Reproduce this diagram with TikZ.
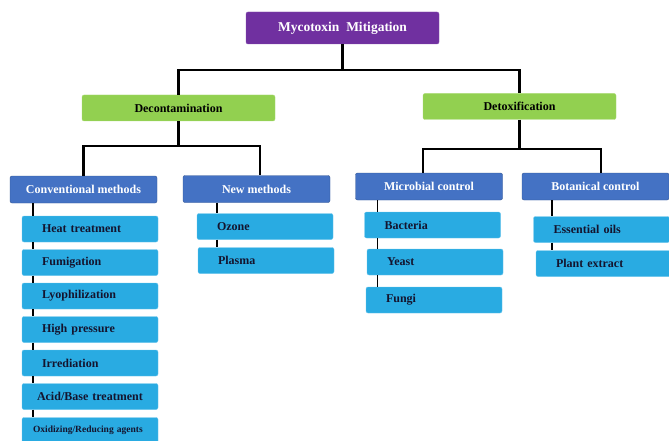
\documentclass[tikz,border=0pt]{standalone}
\usepackage{fontspec}
\setmainfont{Liberation Serif}

\definecolor{mitpurple}{HTML}{7030A0}
\definecolor{mitgreen}{HTML}{92D050}
\definecolor{mitblue}{HTML}{4472C4}
\definecolor{mitcyan}{HTML}{29ABE2}
\definecolor{mitink}{HTML}{14142E}

\tikzset{
  box/.style={rectangle, rounded corners=2pt, inner sep=0pt,
    font=\bfseries\fontsize{12}{14}\selectfont},
  rootbox/.style={box, fill=mitpurple, draw=mitpurple!85!white, text=white,
    minimum width=193pt, minimum height=32pt, font=\bfseries\fontsize{13.5}{15}\selectfont},
  groupbox/.style={box, fill=mitgreen, draw=mitgreen!80!white, text=black,
    minimum width=193pt, minimum height=26pt},
  classbox/.style={box, fill=mitblue, draw=mitblue!75!black, text=white,
    minimum width=147pt, minimum height=27pt},
  leaf/.style={box, fill=mitcyan, draw=mitcyan!70!white, text=mitink,
    text width=96pt, align=left, inner xsep=20pt, minimum height=26pt},
  conn/.style={line width=2.2pt},
  bar/.style={line width=1.6pt}
}

\begin{document}
\begin{tikzpicture}[x=1pt,y=-1pt]
    \useasboundingbox (0,0) rectangle (669,441);

    % 顶层
    \node[rootbox] (root) at (342.5,28) {Mycotoxin~~Mitigation};

    % 第二层
    \node[groupbox] (decon) at (178.5,108) {Decontamination};
    \node[groupbox] (detox) at (519.5,106.5) {Detoxification};

    % 第三层
    \node[classbox] (conv) at (83.5,189.5) {Conventional methods};
    \node[classbox] (newm) at (256.5,189) {New methods};
    \node[classbox] (micro) at (429,186.5) {Microbial control};
    \node[classbox] (bota) at (595.5,186.5) {Botanical control};

    % 传统方法
    \node[leaf] (heat) at (90,229) {Heat treatment};
    \node[leaf] (fumi) at (90,262.5) {Fumigation};
    \node[leaf] (lyo) at (90,296) {Lyophilization};
    \node[leaf] (press) at (90,329.5) {High pressure};
    \node[leaf] (irr) at (90,363) {Irrediation};
    \node[leaf, inner xsep=15pt, text width=106pt] (acid) at (90,396.5) {Acid/Base treatment};
    \node[leaf, inner xsep=11pt, text width=114pt,
      font=\bfseries\fontsize{9.5}{11}\selectfont] (oxid) at (90,430.5) {Oxidizing/Reducing agents};

    % 新方法
    \node[leaf] (ozone) at (265,226.5) {Ozone};
    \node[leaf] (plasma) at (266,260.5) {Plasma};

    % 微生物控制
    \node[leaf] (bact) at (432.5,225) {Bacteria};
    \node[leaf] (yeast) at (435,262) {Yeast};
    \node[leaf] (fungi) at (434,300) {Fungi};

    % 植物控制
    \node[leaf] (oils) at (601.5,229.5) {Essential oils};
    \node[leaf] (plant) at (604,263.5) {Plant extract};

    % 连线
    \draw[conn] (root.south) -- (root.south |- 0,70);
    \draw[conn] (decon.north) |- (root.south |- 0,70) -| (detox.north);
    \draw[conn] (decon.south) -- (decon.south |- 0,146);
    \draw[conn] (conv.north) |- (decon.south |- 0,146) -| ([xshift=3.5pt]newm.north);
    \draw[conn] (detox.south) -- (detox.south |- 0,149);
    \draw[conn] ([xshift=-6pt]micro.north) |- (detox.south |- 0,149) -| ([xshift=5.5pt]bota.north);

    % 左侧竖线
    \coordinate (cbar) at ([xshift=23pt]conv.south west);
    \coordinate (nbar) at ([xshift=34pt]newm.south west);
    \coordinate (mbar) at ([xshift=22pt]micro.south west);
    \coordinate (bbar) at ([xshift=30pt]bota.south west);
    \foreach \a/\b in {conv/heat,heat/fumi,fumi/lyo,lyo/press,press/irr,irr/acid,acid/oxid}
        \draw[bar] (\a.south -| cbar) -- (\b.north -| cbar);
    \foreach \a/\b in {newm/ozone,ozone/plasma}
        \draw[bar] (\a.south -| nbar) -- (\b.north -| nbar);
    \foreach \a/\b in {micro/bact,bact/yeast,yeast/fungi}
        \draw[bar] (\a.south -| mbar) -- (\b.north -| mbar);
    \foreach \a/\b in {bota/oils,oils/plant}
        \draw[bar] (\a.south -| bbar) -- (\b.north -| bbar);
\end{tikzpicture}
\end{document}
